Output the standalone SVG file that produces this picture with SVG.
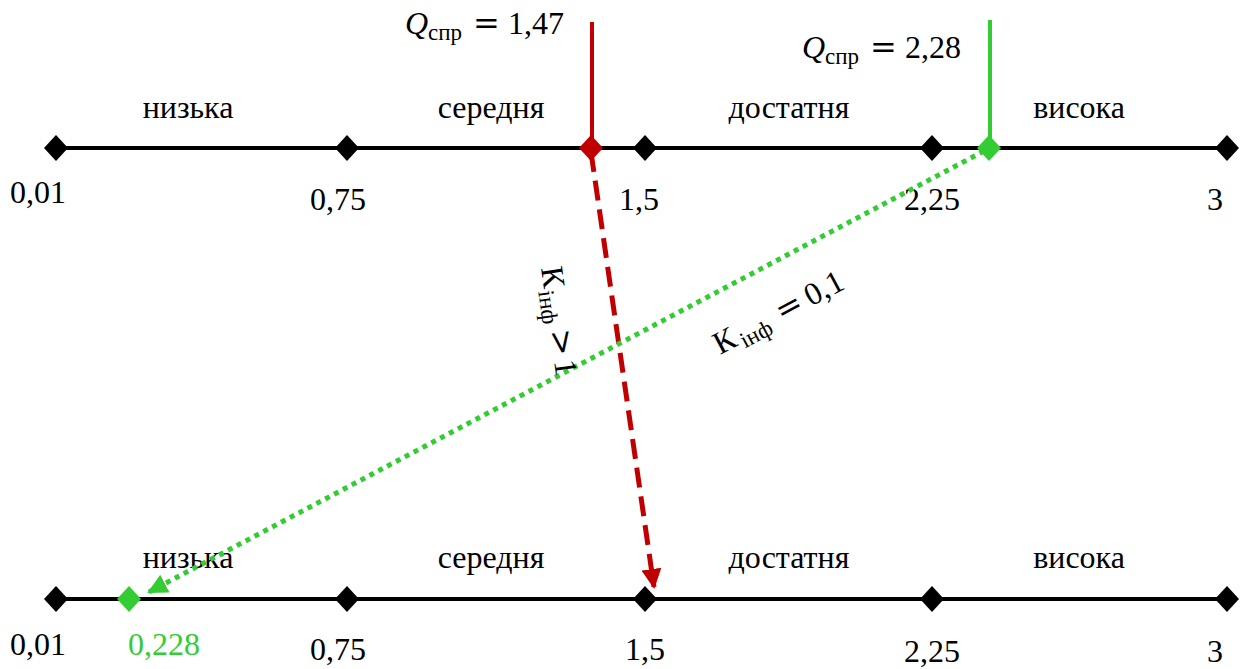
<svg xmlns="http://www.w3.org/2000/svg" width="1246" height="669" viewBox="0 0 1246 669">
<style>
.t{font-family:"Liberation Serif","DejaVu Serif",serif;font-size:32px;fill:#000}
.c{text-anchor:middle}
.ax{stroke:#000;stroke-width:4;fill:none}
.dk{fill:#000}
.g{fill:#33cc33}
.r{fill:#c00000}
.sub{font-size:23px}
.eq{font-family:"DejaVu Serif","Liberation Serif",serif}
</style>
<defs>
<path id="dm" d="M0,-13 L12,0 L0,13 L-12,0 Z"/>
<marker id="ar" viewBox="0 0 10 10" refX="9" refY="5" markerWidth="4" markerHeight="4" orient="auto" markerUnits="strokeWidth"><path d="M0,0 L10,5 L0,10 Z" fill="#c00000"/></marker>
<marker id="ag" viewBox="0 0 10 10" refX="9" refY="5" markerWidth="4" markerHeight="4" orient="auto" markerUnits="strokeWidth"><path d="M0,0 L10,5 L0,10 Z" fill="#33cc33"/></marker>
</defs>
<g id="scale-top">
<line class="ax" x1="56" y1="148" x2="1227" y2="148"/>
<use href="#dm" x="56" y="148" class="dk"/>
<use href="#dm" x="347" y="148" class="dk"/>
<use href="#dm" x="645" y="148" class="dk"/>
<use href="#dm" x="932" y="148" class="dk"/>
<use href="#dm" x="1227" y="148" class="dk"/>
<text class="t c" x="188" y="118">низька</text>
<text class="t c" x="491" y="118">середня</text>
<text class="t c" x="789" y="118">достатня</text>
<text class="t c" x="1079" y="118">висока</text>
<text class="t c" x="38" y="203">0,01</text>
<text class="t c" x="338" y="210">0,75</text>
<text class="t c" x="639" y="210">1,5</text>
<text class="t c" x="932" y="210">2,25</text>
<text class="t c" x="1215" y="210">3</text>
</g>
<g id="scale-bottom">
<line class="ax" x1="56" y1="599" x2="1227" y2="599"/>
<use href="#dm" x="56" y="599" class="dk"/>
<use href="#dm" x="347" y="599" class="dk"/>
<use href="#dm" x="645" y="599" class="dk"/>
<use href="#dm" x="932" y="599" class="dk"/>
<use href="#dm" x="1227" y="599" class="dk"/>
<text class="t c" x="188" y="568">низька</text>
<text class="t c" x="491" y="568">середня</text>
<text class="t c" x="789" y="568">достатня</text>
<text class="t c" x="1079" y="568">висока</text>
<text class="t c" x="38" y="655">0,01</text>
<text class="t c" x="338" y="660">0,75</text>
<text class="t c" x="645" y="660">1,5</text>
<text class="t c" x="932" y="662">2,25</text>
<text class="t c" x="1215" y="662">3</text>
</g>
<g id="point-red">
<line x1="592" y1="22" x2="592" y2="146" stroke="#c00000" stroke-width="4"/>
<use href="#dm" x="591" y="148" class="r"/>
<text class="t" y="34"><tspan x="405" font-style="italic">Q</tspan><tspan class="sub" x="428" y="40">спр</tspan><tspan class="eq" x="473" y="34">=</tspan><tspan x="508">1,47</tspan></text>
</g>
<g id="point-green">
<line x1="990" y1="20" x2="990" y2="146" stroke="#33cc33" stroke-width="4"/>
<use href="#dm" x="989" y="148" class="g"/>
<text class="t" y="58"><tspan x="802" font-style="italic">Q</tspan><tspan class="sub" x="825" y="64">спр</tspan><tspan class="eq" x="870" y="58">=</tspan><tspan x="905">2,28</tspan></text>
</g>
<g id="point-result">
<use href="#dm" x="129" y="599" class="g"/>
<text class="t c" x="164" y="655" style="fill:#33cc33">0,228</text>
</g>
<g id="connectors">
<line x1="591" y1="152" x2="654" y2="587" stroke="#c00000" stroke-width="5" stroke-dasharray="20,9" marker-end="url(#ar)"/>
<line x1="984" y1="151" x2="149" y2="592" stroke="#33cc33" stroke-width="5" stroke-dasharray="5,5" marker-end="url(#ag)"/>
<text class="t" transform="translate(541,268) rotate(82)"><tspan x="0" y="0">К</tspan><tspan class="sub" x="23" y="6">інф</tspan><tspan class="eq" x="63" y="0">&gt;</tspan><tspan x="94">1</tspan></text>
<text class="t" transform="translate(720,355) rotate(-28)"><tspan x="0" y="0">К</tspan><tspan class="sub" x="25" y="6">інф</tspan><tspan class="eq" x="70" y="0">=</tspan><tspan x="103">0,1</tspan></text>
</g>
</svg>
